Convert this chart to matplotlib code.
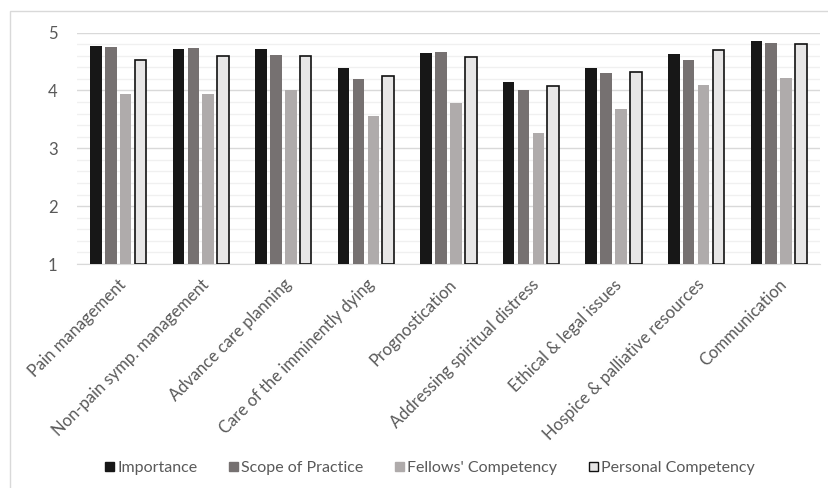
import numpy as np
import matplotlib.pyplot as plt
from matplotlib.patches import Rectangle, Patch

plt.rcParams['font.family'] = ['Lato', 'DejaVu Sans']

# skill areas and mean ratings for each series
topics = ['Pain management', 'Non-pain symp. management', 'Advance care planning',
          'Care of the imminently dying', 'Prognostication', 'Addressing spiritual distress',
          'Ethical & legal issues', 'Hospice & palliative resources', 'Communication']
importance = [4.77, 4.72, 4.71, 4.39, 4.65, 4.14, 4.39, 4.62, 4.85]
scope = [4.75, 4.73, 4.61, 4.20, 4.67, 4.00, 4.30, 4.52, 4.82]
fellows = [3.94, 3.94, 4.00, 3.56, 3.79, 3.26, 3.67, 4.10, 4.22]
personal = [4.52, 4.59, 4.59, 4.25, 4.57, 4.07, 4.32, 4.70, 4.80]
series_names = ['Importance', 'Scope of Practice', "Fellows' Competency", 'Personal Competency']

colors = ['#171717', '#767171', '#AFABAB', '#E7E6E6']
edges = ['none', 'none', 'none', '#111111']

fig = plt.figure(figsize=(8.29, 4.88), dpi=100)
ax = fig.add_axes([0.0929, 0.459, 0.8961, 0.4744])

# outer chart frame
fig.patches.append(Rectangle((10 / 829, -0.1), 1.2, 1 - 11 / 488 + 0.1,
                             transform=fig.transFigure, fill=False,
                             edgecolor='#D9D9D9', linewidth=1.0))

x = np.arange(len(topics))
width = 0.14
step = 0.18
offsets = (np.arange(4) - 1.5) * step
for i, vals in enumerate([importance, scope, fellows, personal]):
    vals = np.array(vals)
    ax.bar(x + offsets[i], vals - 1, width, bottom=1, color=colors[i],
           edgecolor=edges[i], linewidth=1.2 if i == 3 else 0, zorder=3)

ax.set_xlim(-0.5, len(topics) - 0.5)
ax.set_ylim(1, 5)
ax.set_yticks([1, 2, 3, 4, 5])
ax.set_yticks(np.arange(1, 5.01, 0.2), minor=True)
ax.grid(axis='y', which='major', color='#D9D9D9', linewidth=1.0, zorder=0)
ax.grid(axis='y', which='minor', color='#F0F0F0', linewidth=1.0, zorder=0)
ax.tick_params(axis='both', which='both', length=0, colors='#595959')
ax.tick_params(axis='y', pad=14, labelsize=12)
for s in ['top', 'right', 'left']:
    ax.spines[s].set_visible(False)
ax.spines['bottom'].set_color('#D9D9D9')

ax.set_xticks(x)
ax.set_xticklabels(topics, rotation=45, ha='right', rotation_mode='anchor')
ax.tick_params(axis='x', pad=9, labelsize=12)

handles = [Patch(facecolor=colors[i], edgecolor='#111111' if i == 3 else colors[i],
                 linewidth=1.0) for i in range(4)]
fig.legend(handles, series_names, loc='center', bbox_to_anchor=(430 / 829, 1 - 468 / 488),
           ncol=4, frameon=False, fontsize=11.5, labelcolor='#595959',
           handlelength=0.55, handleheight=0.55, handletextpad=0.2, columnspacing=2.0)

fig.savefig('out.png', dpi=100)
